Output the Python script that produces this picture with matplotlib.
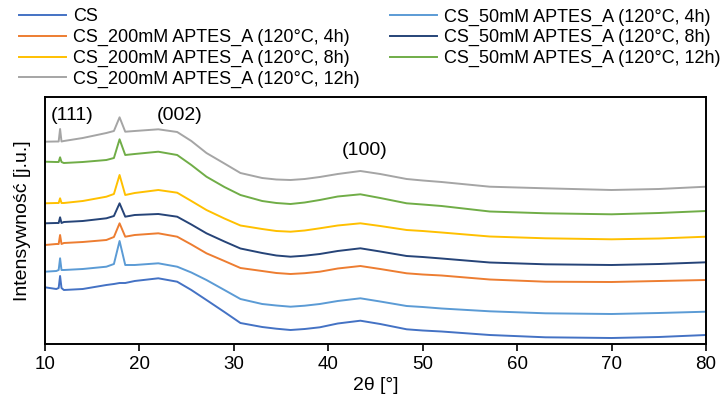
import matplotlib
matplotlib.use("Agg")
import matplotlib.pyplot as plt

plt.rcParams['font.family'] = ['Liberation Sans', 'DejaVu Sans']

# 2theta sampling points
two_theta = [10, 11.2, 11.45, 11.6, 11.75, 12.0, 14, 16.5, 17.3, 17.9, 18.5, 19.5, 22, 24,
             25.5, 27.1, 29, 30.7, 33, 34.5, 36, 37.5, 39.1, 41, 43.4, 45.5, 48.3, 50,
             52, 57.1, 63, 70, 75, 80]

# intensities (arbitrary units, already stacked with offsets as in the figure)
cs = [56.7, 55, 56, 68, 56, 54, 55, 59, 60, 61, 61, 63, 65.7, 62.3,
      54, 44, 32, 21, 17, 15.3, 14, 15, 16.7, 20.5, 23.3, 20, 14.7, 13.5,
      12.5, 9, 6.7, 6, 7, 9]
cs_50_4h = [72.3, 73, 74, 85.7, 74, 74, 75, 77.3, 80, 103, 79, 79, 80.7, 77.3,
            71.5, 64, 54, 45, 40, 38.5, 37.3, 38.3, 40, 43, 45.7, 42.5, 38, 37,
            35.5, 32.7, 30.7, 30, 31, 32.3]
cs_200_4h = [99, 100, 100, 109, 100, 101, 102, 104, 107, 120.7, 107.3, 109, 110.7, 107.3,
             99.5, 90.7, 83, 76, 73, 71, 70, 70.8, 72.3, 75.5, 78, 75, 70.7, 69.5,
             68.5, 64.5, 62.3, 62, 63, 64]
cs_50_8h = [120.7, 121, 121, 126.7, 121, 122, 123, 125.7, 128, 140.7, 127.3, 129, 130, 127.3,
            119.5, 110.7, 102.5, 95.5, 91, 88.5, 87.3, 88.3, 90, 93, 95.7, 92.5, 88, 87,
            85.5, 81.5, 79.7, 79, 80, 81.7]
cs_200_8h = [140.7, 141, 141, 145.7, 141, 141, 143, 147.3, 150, 169, 149, 151, 154, 151.3,
             143, 134, 125.5, 118.5, 115, 113, 112.3, 113.5, 115.7, 118.5, 120.7, 118, 114, 113,
             111.5, 107.5, 105.7, 104.7, 105.5, 107.3]
cs_50_12h = [182.3, 182, 182, 186.7, 182, 181, 182, 184, 186, 204.7, 189, 190, 192.3, 189,
             179, 167.3, 157, 149, 143, 141, 140, 141.5, 144, 147.5, 149.7, 146, 140.7, 139.5,
             138, 132.5, 130.7, 129.7, 131, 133]
cs_200_12h = [202.3, 202.5, 202.5, 215, 202.5, 203, 206, 211, 213, 226.7, 212.3, 213, 214.7, 212,
              203, 191, 180.5, 171, 166, 164.5, 164, 165, 167, 170, 173, 170, 165, 163.5,
              162, 157.3, 155.7, 154, 155, 157.3]

series = [
    ("CS", cs, "#4472C4"),
    ("CS_200mM APTES_A (120°C, 4h)", cs_200_4h, "#ED7D31"),
    ("CS_200mM APTES_A (120°C, 8h)", cs_200_8h, "#FFC000"),
    ("CS_200mM APTES_A (120°C, 12h)", cs_200_12h, "#A5A5A5"),
    ("CS_50mM APTES_A (120°C, 4h)", cs_50_4h, "#5B9BD5"),
    ("CS_50mM APTES_A (120°C, 8h)", cs_50_8h, "#264478"),
    ("CS_50mM APTES_A (120°C, 12h)", cs_50_12h, "#70AD47"),
]

peak_labels = ["(111)", "(002)", "(100)"]
peak_pos = [(12.9, 229), (24.3, 229), (43.9, 194)]

fig = plt.figure(figsize=(7.23, 4.03), dpi=100)
ax = fig.add_axes([0.0622, 0.1464, 0.9143, 0.6129])

for label, y, color in series:
    ax.plot(two_theta, y, color=color, lw=1.4, label=label)

for txt, (px, py) in zip(peak_labels, peak_pos):
    ax.text(px, py, txt, ha="center", va="center", fontsize=14)

ax.set_xlim(10, 80)
ax.set_ylim(0, 247)
ax.set_xticks(range(10, 81, 10))
ax.set_yticks([])
ax.tick_params(axis="x", direction="out", length=5, width=1.2, labelsize=13.5)
for s in ax.spines.values():
    s.set_linewidth(1.4)
ax.set_xlabel("2θ [°]", fontsize=14, labelpad=3)
ax.set_ylabel("Intensywność [j.u.]", fontsize=14, labelpad=10)

fig.legend(loc="upper left", bbox_to_anchor=(0.016, 0.997), ncol=2, frameon=False,
           fontsize=13, handlelength=2.6, handletextpad=0.4, columnspacing=1.7,
           labelspacing=0.2, borderaxespad=0)

fig.savefig("out.png", dpi=100)
